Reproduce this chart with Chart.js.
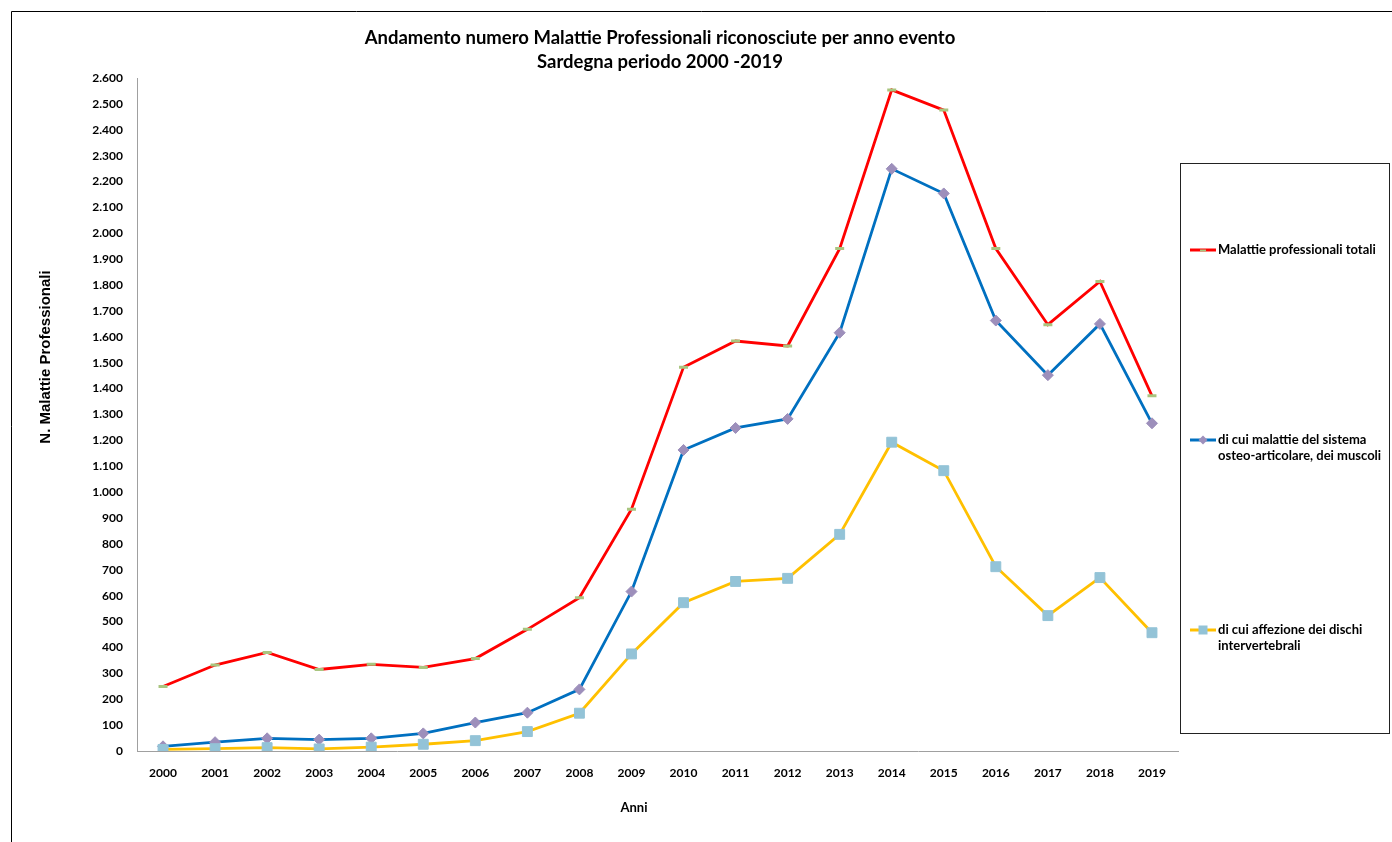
<!DOCTYPE html>
<html>
<head>
<meta charset="utf-8">
<title>Malattie Professionali Sardegna 2000-2019</title>
<script src="https://cdn.jsdelivr.net/npm/chart.js"></script>
<style>
  html, body { margin: 0; padding: 0; background: #fff; }
  #wrap { width: 1392px; height: 842px; }
</style>
</head>
<body>
<div id="wrap"><canvas id="myChart" width="1392" height="842"></canvas></div>
<script>
var anni = ['2000','2001','2002','2003','2004','2005','2006','2007','2008','2009',
            '2010','2011','2012','2013','2014','2015','2016','2017','2018','2019'];
var totali = [249, 332, 381, 315, 335, 323, 357, 470, 592, 934,
              1483, 1584, 1565, 1941, 2554, 2476, 1941, 1647, 1814, 1372];
var osteoArticolari = [18, 34, 49, 44, 49, 68, 110, 148, 238, 616,
                       1163, 1248, 1283, 1616, 2249, 2154, 1663, 1452, 1650, 1266];
var dischiIntervertebrali = [6, 9, 13, 8, 15, 26, 40, 75, 146, 375,
                             573, 655, 667, 837, 1193, 1083, 712, 523, 670, 457];
var nomiSerie = [
  ['Malattie professionali totali'],
  ['di cui malattie del sistema', 'osteo-articolare, dei muscoli'],
  ['di cui affezione dei dischi', 'intervertebrali']
];
var titolo = ['Andamento numero Malattie Professionali riconosciute per anno evento',
              'Sardegna periodo 2000 -2019'];
var yMin = 0, yMax = 2600, yStep = 100;

var FONT = 'Lato, "Open Sans", sans-serif';

function fmt(v) {
  return String(v).replace(/\B(?=(\d{3})+(?!\d))/g, '.');
}

// titles, frame and the boxed legend on the right
var decorations = {
  id: 'decorations',
  beforeDraw: function(chart) {
    var ctx = chart.ctx;
    ctx.save();
    ctx.fillStyle = '#fff';
    ctx.fillRect(0, 0, chart.width, chart.height);
    ctx.strokeStyle = '#000';
    ctx.lineWidth = 1;
    ctx.beginPath();
    ctx.moveTo(11.5, chart.height);
    ctx.lineTo(11.5, 11.5);
    ctx.lineTo(chart.width, 11.5);
    ctx.stroke();
    ctx.restore();
  },
  afterDraw: function(chart) {
    var ctx = chart.ctx;
    ctx.save();
    ctx.fillStyle = '#000';
    ctx.textAlign = 'center';
    ctx.textBaseline = 'middle';
    ctx.font = 'bold 18.5px ' + FONT;
    ctx.fillText(titolo[0], 660, 38);
    ctx.fillText(titolo[1], 660, 62);

    ctx.font = 'bold 13px ' + FONT;
    ctx.fillText('Anni', 634, 808);

    ctx.save();
    ctx.translate(46, 357);
    ctx.rotate(-Math.PI / 2);
    ctx.font = 'bold 15px "Liberation Sans", Arial, sans-serif';
    ctx.fillText('N. Malattie Professionali', 0, 0);
    ctx.restore();

    // legend box
    ctx.strokeStyle = '#222';
    ctx.lineWidth = 1;
    ctx.strokeRect(1180.5, 163.5, 209, 570);
    var ys = [250, 440, 630];
    ctx.textAlign = 'left';
    ctx.font = 'bold 13px ' + FONT;
    chart.data.datasets.forEach(function(ds, i) {
      var y = ys[i];
      ctx.strokeStyle = ds.borderColor;
      ctx.lineWidth = 3;
      ctx.beginPath();
      ctx.moveTo(1190, y);
      ctx.lineTo(1216, y);
      ctx.stroke();
      var cx = 1203;
      ctx.fillStyle = ds.pointBackgroundColor;
      ctx.strokeStyle = ds.pointBorderColor;
      if (ds.pointStyle === 'line') {
        ctx.lineWidth = 2;
        ctx.beginPath();
        ctx.moveTo(cx - 3, y + 0.5);
        ctx.lineTo(cx + 3, y + 0.5);
        ctx.stroke();
      } else if (ds.pointStyle === 'rectRot') {
        ctx.beginPath();
        ctx.moveTo(cx - 4.5, y);
        ctx.lineTo(cx, y - 4.5);
        ctx.lineTo(cx + 4.5, y);
        ctx.lineTo(cx, y + 4.5);
        ctx.closePath();
        ctx.fill();
      } else {
        ctx.fillRect(cx - 4.5, y - 4.5, 9, 9);
      }
      ctx.fillStyle = '#000';
      nomiSerie[i].forEach(function(t, k) {
        ctx.fillText(t, 1218, y + k * 16);
      });
    });
    ctx.restore();
  }
};

var config = {
  type: 'line',
  data: {
    labels: anni,
    datasets: [{
      label: nomiSerie[0].join(' '),
      data: totali,
      borderColor: '#FF0000',
      borderWidth: 2.8,
      pointStyle: 'line',
      pointRadius: 4.5,
      pointBorderWidth: 3,
      pointBorderColor: '#A9C57F',
      pointBackgroundColor: '#A9C57F',
      tension: 0,
      order: 2
    }, {
      label: nomiSerie[1].join(' '),
      data: osteoArticolari,
      borderColor: '#0070C0',
      borderWidth: 2.8,
      pointStyle: 'rectRot',
      pointRadius: 5.5,
      pointBorderWidth: 1,
      pointBorderColor: '#9D8FBB',
      pointBackgroundColor: '#9D8FBB',
      tension: 0,
      order: 1
    }, {
      label: nomiSerie[2].join(' '),
      data: dischiIntervertebrali,
      borderColor: '#FFC000',
      borderWidth: 2.8,
      pointStyle: 'rect',
      pointRadius: 7,
      pointBorderWidth: 1,
      pointBorderColor: '#93C3D7',
      pointBackgroundColor: '#93C3D7',
      tension: 0,
      order: 0
    }]
  },
  options: {
    responsive: false,
    animation: false,
    layout: { padding: { left: 0, right: 214, top: 78, bottom: 0 } },
    plugins: {
      legend: { display: false },
      title: { display: false },
      tooltip: { enabled: false }
    },
    scales: {
      x: {
        offset: true,
        grid: { display: false, drawTicks: false },
        border: { display: true, color: '#A0A0A0', width: 1 },
        ticks: {
          color: '#000',
          padding: 15,
          maxRotation: 0,
          autoSkip: false,
          font: { family: FONT, size: 12, weight: 'bold' }
        },
        afterFit: function(scale) { scale.height = 91; }
      },
      y: {
        min: yMin,
        max: yMax,
        grid: { display: false, drawTicks: false },
        border: { display: true, color: '#A0A0A0', width: 1 },
        ticks: {
          stepSize: yStep,
          color: '#000',
          padding: 14,
          font: { family: FONT, size: 12, weight: 'bold' },
          callback: function(v) { return fmt(v); }
        },
        afterFit: function(scale) { scale.width = 137; }
      }
    }
  },
  plugins: [decorations]
};

window.onload = function() {
  var ctx = document.getElementById('myChart').getContext('2d');
  window.myLine = new Chart(ctx, config);
};
</script>
</body>
</html>
